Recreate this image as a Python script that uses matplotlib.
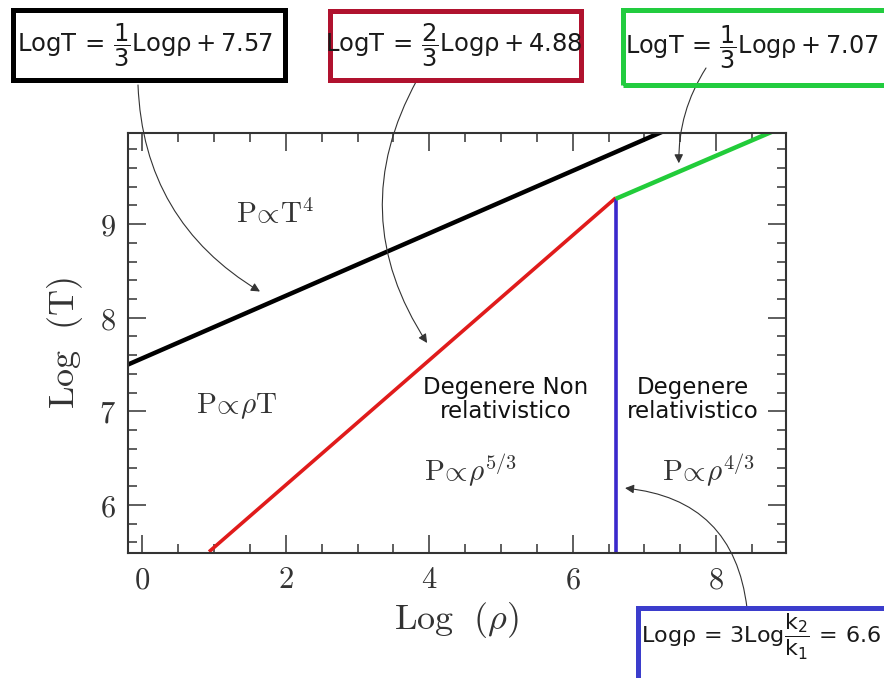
import matplotlib
matplotlib.use('Agg')
import matplotlib.pyplot as plt
from matplotlib.patches import Rectangle
from matplotlib.ticker import MultipleLocator, FormatStrFormatter

# line endpoints (log rho, log T)
black_x = [-0.2, 7.29]
black_y = [7.50, 10.0]
red_x = [0.93, 6.6]
red_y = [5.50, 9.28]
green_x = [6.6, 8.82]
green_y = [9.27, 10.0]
blue_x = [6.6, 6.6]
blue_y = [5.50, 9.27]

x_ticks = [0, 2, 4, 6, 8]
y_ticks = [6, 7, 8, 9]

W, H = 884, 678

plt.rcParams['mathtext.fontset'] = 'cm'


def fx(px):
    return px / W


def fy(py):
    return 1 - py / H


fig = plt.figure(figsize=(W / 100, H / 100), dpi=100)
fig.patch.set_facecolor('white')
ax = fig.add_axes([fx(128), fy(552.7), fx(785.7) - fx(128), fy(133.3) - fy(552.7)])

ax.plot(black_x, black_y, color='black', lw=3.2, solid_capstyle='butt')
ax.plot(red_x, red_y, color='#e01b1b', lw=2.6, solid_capstyle='butt')
ax.plot(blue_x, blue_y, color='#3a28cc', lw=2.6, solid_capstyle='butt')
ax.plot(green_x, green_y, color='#22cc3a', lw=3.2, solid_capstyle='butt')

ax.set_xlim(-0.2, 8.97)
ax.set_ylim(5.49, 9.97)
ax.set_xticks(x_ticks)
ax.set_yticks(y_ticks)
ax.xaxis.set_minor_locator(MultipleLocator(0.5))
ax.yaxis.set_minor_locator(MultipleLocator(0.2))
ax.xaxis.set_major_formatter(FormatStrFormatter('$%d$'))
ax.yaxis.set_major_formatter(FormatStrFormatter('$%d$'))
ax.tick_params(which='both', direction='in', top=True, right=True, color='#333333', width=1.1)
ax.tick_params(which='major', length=13, labelsize=22, pad=9, labelcolor='#333333')
ax.tick_params(which='minor', length=6.5)
for s in ax.spines.values():
    s.set_linewidth(1.5)
    s.set_color('#333333')

ax.set_xlabel(r'$\mathrm{Log}\ \ (\rho)$', fontsize=26, color='#333333', labelpad=4)
ax.set_ylabel(r'$\mathrm{Log}\ \ (\mathrm{T})$', fontsize=26, color='#333333', labelpad=10)

# region labels
lab = dict(fontsize=21, color='#333333', ha='center', va='center')
ax.text(1.85, 9.11, r'$\mathrm{P}\!\propto\!\mathrm{T}^4$', **lab)
ax.text(1.32, 7.06, r'$\mathrm{P}\!\propto\!\rho\mathrm{T}$', **lab)
ax.text(4.57, 6.37, r'$\mathrm{P}\!\propto\!\rho^{5/3}$', **lab)
ax.text(7.9, 6.37, r'$\mathrm{P}\!\propto\!\rho^{4/3}$', **lab)
ax.text(5.06, 7.13, 'Degenere Non\nrelativistico', fontsize=16.5, ha='center', va='center',
        color='#111111', linespacing=1.05)
ax.text(7.68, 7.13, 'Degenere\nrelativistico', fontsize=16.5, ha='center', va='center',
        color='#111111', linespacing=1.05)

# equation boxes
boxes = [
    (12.5, 10, 284.5, 80, 'black', 145, 45, 17.5,
     r'$\mathrm{LogT}\,=\,\dfrac{1}{3}\mathrm{Logρ} + 7.57$'),
    (329.5, 10.8, 580.5, 79.5, '#b0122e', 454, 45, 17.5,
     r'$\mathrm{LogT}\,=\,\dfrac{2}{3}\mathrm{Logρ} + 4.88$'),
    (622.5, 10, 900, 84.5, '#22cc3f', 752, 47, 17.2,
     r'$\mathrm{LogT}\,=\,\dfrac{1}{3}\mathrm{Logρ} + 7.07$'),
    (637.5, 607.5, 900, 700, '#3b3dcc', 761, 637, 16,
     r'$\mathrm{Logρ}\,=\,3\mathrm{Log}\dfrac{\mathrm{k}_2}{\mathrm{k}_1}\,=\,6.6$'),
]
for x0, y0, x1, y1, col, tx, ty, fs, txt in boxes:
    fig.add_artist(Rectangle((fx(x0), fy(y1)), fx(x1) - fx(x0), fy(y0) - fy(y1),
                             transform=fig.transFigure, fill=False, edgecolor=col, lw=3.6,
                             clip_on=False))
    fig.text(fx(tx), fy(ty), txt, fontsize=fs, ha='center', va='center', color='#1a1a1a',
             math_fontfamily='dejavusans')

# arrows from boxes to lines
arrows = [
    ((1.64, 8.28), (138, 85), 0.27),
    ((3.97, 7.73), (417, 80), 0.3),
    ((7.48, 9.65), (706, 68), 0.15),
    ((6.73, 6.18), (747, 608), 0.4),
]
for xy, (px, py), rad in arrows:
    ax.annotate('', xy=xy, xycoords='data', xytext=(px, H - py), textcoords='figure pixels',
                arrowprops=dict(arrowstyle='-|>', color='#333333', lw=0.8, mutation_scale=13,
                                shrinkA=0, shrinkB=0, connectionstyle=f'arc3,rad={rad}'),
                annotation_clip=False)

fig.savefig('out.png', dpi=100, facecolor='white')
